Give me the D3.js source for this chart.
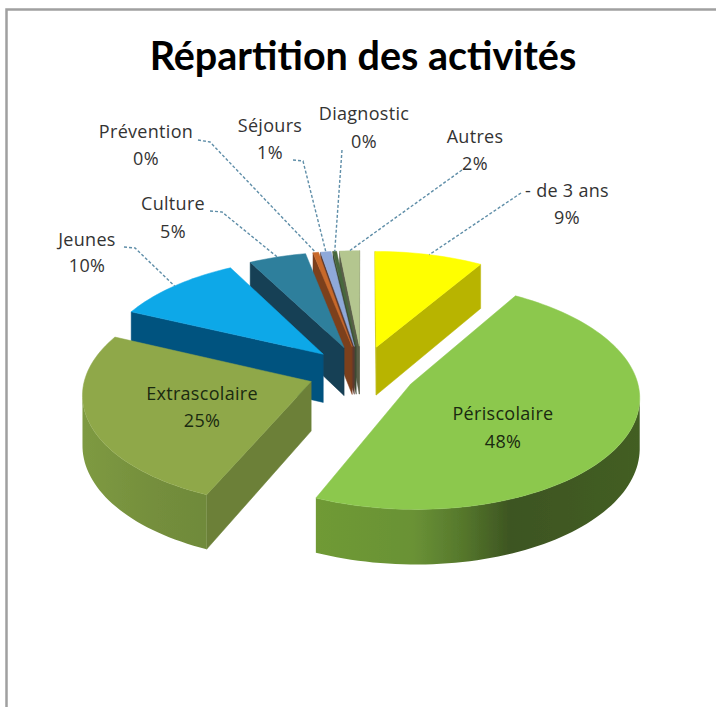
<!DOCTYPE html>
<html><head><meta charset="utf-8">
<script src="https://cdn.jsdelivr.net/npm/d3@7"></script>
<style>html,body{margin:0;padding:0;background:#fff}svg{display:block}</style>
</head><body><div id="c"></div>
<script>
const categories=["- de 3 ans","Périscolaire","Extrascolaire","Jeunes","Culture","Prévention","Séjours","Diagnostic","Autres"];
const values=[8.7,47.8,25.3,10.4,4.6,0.45,0.85,0.3,1.6];
const topColors=["#ffff00","#8cc84e","#8fa84a","#0ea8e8","#2e7f9c","#c8692a","#8fa9d9","#47683c","#b4c68f"];
const sideColors=["#b8b400","#6f9a36","#6c8038","#04527f","#153f54","#7c3f1e","#5c3a30","#3f4a34","#5a5f48"];
const arcColors=["#b8b400","url(#periSide)","url(#extraSide)","#04527f","#153f54","#7c3f1e","#5c3a30","#3f4a34","#5a5f48"];
const labelLayout=[
 {x:567,y:197,dy:27,path:[[521,193]]},
 {x:503,y:420,dy:28,inside:true},
 {x:202,y:400,dy:27,inside:true},
 {x:87,y:246,dy:26,path:[[124,247],[135,248]]},
 {x:173,y:210,dy:28,path:[[210,211],[222,212]]},
 {x:146,y:138,dy:27,path:[[198,140],[210,142]]},
 {x:270,y:132,dy:27,path:[[293,160],[303,161]]},
 {x:364,y:120,dy:28,path:[[342,150]]},
 {x:475,y:143,dy:27,path:[[462,170]]}
];
const W=716,H=707,cx=362,cy=372,A=225,B=110,K=0.1,explode=0.24,D=49;
const svg=d3.select("#c").append("svg").attr("width",W).attr("height",H);
const defs=svg.append("defs");
function grad(id,stops){const g=defs.append("linearGradient").attr("id",id).attr("x1",0).attr("x2",1).attr("y1",0).attr("y2",0);
 stops.forEach(s=>g.append("stop").attr("offset",s[0]).attr("stop-color",s[1]));}
grad("periSide",[[0,"#6f9a36"],[0.3,"#6a9236"],[0.45,"#56782c"],[0.6,"#3d5522"],[1,"#435e24"]]);
grad("extraSide",[[0,"#7e9a42"],[0.6,"#748e3c"],[1,"#6f8a3a"]]);
defs.append("filter").attr("id","soft").append("feGaussianBlur").attr("stdDeviation",0.5);
svg.append("path").attr("d","M6.5,707V9.5H716").attr("fill","none").attr("stroke","#a0a0a0").attr("stroke-width",2.5);
svg.append("text").attr("x",363).attr("y",70).attr("text-anchor","middle").attr("font-family","Lato").attr("font-weight",700).attr("font-size",39.5).attr("fill","#000").text("Répartition des activités");
const sx=d3.scaleLinear().domain([-1,1]).range([-A,A]);
const sy=d3.scaleLinear().domain([-1,1]).range([B,-B]);
const project=(u,v,h=0)=>{const w=1+K*v;return [cx+sx(u)/w,cy+sy(v)/w+h*D/w];};
const pie=d3.pie().sort(null).value(d=>d).startAngle(0).endAngle(2*Math.PI);
const arcs=pie(values);
const line=d3.line();
const slices=arcs.map((a,i)=>{
 const mid=(a.startAngle+a.endAngle)/2,ou=explode*Math.sin(mid),ov=explode*Math.cos(mid);
 const n=Math.max(2,Math.ceil((a.endAngle-a.startAngle)/0.03));
 const rim=d3.range(n+1).map(k=>{const t=a.startAngle+(a.endAngle-a.startAngle)*k/n;return [ou+Math.sin(t),ov+Math.cos(t)];});
 return {i,mid,ou,ov,rim};
});
const g=svg.append("g").attr("filter","url(#soft)");
slices.slice().sort((a,b)=>b.ov-a.ov).forEach(s=>{
 const tip=[s.ou,s.ov],P=(p,h)=>project(p[0],p[1],h);
 const wall=(a,b,fill)=>g.append("path").attr("d",line([P(a,0),P(b,0),P(b,1),P(a,1)])+"Z").attr("fill",fill).attr("stroke",fill).attr("stroke-width",0.5);
 const first=s.rim[0],last=s.rim[s.rim.length-1];
 if(P(last,0)[0]>P(tip,0)[0])wall(last,tip,sideColors[s.i]);
 if(P(first,0)[0]<P(tip,0)[0])wall(tip,first,sideColors[s.i]);
 const vis=[];
 for(let k=0;k<s.rim.length-1;k++){if(P(s.rim[k+1],0)[0]<P(s.rim[k],0)[0]){if(!vis.length)vis.push(s.rim[k]);vis.push(s.rim[k+1]);}}
 if(vis.length>1){
  const d=line(vis.map(p=>P(p,0)).concat(vis.slice().reverse().map(p=>P(p,1))))+"Z";
  g.append("path").attr("d",d).attr("fill",arcColors[s.i]);
 }
 g.append("path").attr("d",line([P(tip,0)].concat(s.rim.map(p=>P(p,0))))+"Z").attr("fill",topColors[s.i]).attr("stroke",topColors[s.i]).attr("stroke-width",0.5);
});
labelLayout.forEach((l,i)=>{
 if(l.path){
  const s=slices[i],end=project(s.ou+Math.sin(s.mid),s.ov+Math.cos(s.mid));
  svg.append("path").attr("d",line(l.path.concat([end]))).attr("fill","none").attr("stroke","#5f8ea8").attr("stroke-width",1.4).attr("stroke-dasharray","3 2");
 }
 const t=svg.append("text").attr("text-anchor","middle").attr("font-family","Open Sans").attr("font-size",18).attr("letter-spacing",0.3).attr("fill",l.inside?"#1a2a10":"#333");
 t.append("tspan").attr("x",l.x).attr("y",l.y).text(categories[i]);
 t.append("tspan").attr("x",l.x).attr("y",l.y+l.dy).text(Math.round(values[i])+"%");
});
</script></body></html>
